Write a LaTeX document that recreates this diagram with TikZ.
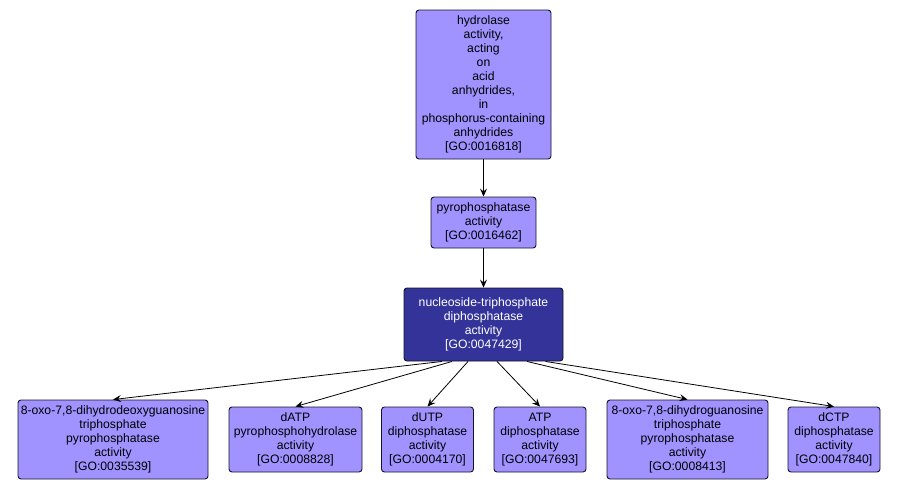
\documentclass[tikz,border=0pt]{standalone}
\usepackage{fontspec}
\setmainfont{Liberation Sans}
\usetikzlibrary{arrows.meta}
\definecolor{lightgo}{RGB}{160,146,255}
\definecolor{darkgo}{RGB}{51,51,153}
\definecolor{edgec}{RGB}{20,20,40}
\tikzset{
  goterm/.style={draw=edgec, line width=0.9pt, rounded corners=3pt, fill=lightgo,
    align=center, inner sep=0pt, font=\fontsize{12.2}{14}\selectfont, text=black},
  goactive/.style={goterm, fill=darkgo, text=white},
  goedge/.style={draw=black, line width=0.8pt, -{Stealth[length=8pt,width=7pt,inset=3pt]}}
}
\begin{document}
\begin{tikzpicture}[x=1pt,y=-1pt]
\useasboundingbox (0,0) rectangle (899,490);
\node[goterm, minimum width=135pt, minimum height=149pt] (top) at (483.5,84.5)
  {hydrolase\\activity,\\acting\\on\\acid\\anhydrides,\\in\\phosphorus-containing\\anhydrides\\{[GO:0016818]}};
\node[goterm, minimum width=105pt, minimum height=51pt] (pyro) at (483.5,222.5)
  {pyrophosphatase\\activity\\{[GO:0016462]}};
\node[goactive, minimum width=159pt, minimum height=73pt] (nuc) at (483.5,324.5)
  {nucleoside-triphosphate\\diphosphatase\\activity\\{[GO:0047429]}};
\node[goterm, minimum width=190pt, minimum height=79pt] (n1) at (113,439.5)
  {8-oxo-7,8-dihydrodeoxyguanosine\\triphosphate\\pyrophosphatase\\activity\\{[GO:0035539]}};
\node[goterm, minimum width=133pt, minimum height=65pt] (n2) at (295.5,439.5)
  {dATP\\pyrophosphohydrolase\\activity\\{[GO:0008828]}};
\node[goterm, minimum width=92pt, minimum height=65pt] (n3) at (427.5,439.5)
  {dUTP\\diphosphatase\\activity\\{[GO:0004170]}};
\node[goterm, minimum width=92pt, minimum height=65pt] (n4) at (540,439.5)
  {ATP\\diphosphatase\\activity\\{[GO:0047693]}};
\node[goterm, minimum width=161pt, minimum height=79pt] (n5) at (687.5,439.5)
  {8-oxo-7,8-dihydroguanosine\\triphosphate\\pyrophosphatase\\activity\\{[GO:0008413]}};
\node[goterm, minimum width=92pt, minimum height=65pt] (n6) at (834,439.5)
  {dCTP\\diphosphatase\\activity\\{[GO:0047840]}};
\draw[goedge] (top.south) -- (pyro.north);
\draw[goedge] (pyro.south) -- (nuc.north);
\draw[goedge] ([xshift=-41.5pt]nuc.south) -- (n1.north);
\draw[goedge] ([xshift=-31.5pt]nuc.south) -- (n2.north);
\draw[goedge] ([xshift=-15.5pt]nuc.south) -- (n3.north);
\draw[goedge] ([xshift=13.5pt]nuc.south) -- (n4.north);
\draw[goedge] ([xshift=43.5pt]nuc.south) -- (n5.north);
\draw[goedge] ([xshift=62pt]nuc.south) -- (n6.north);
\end{tikzpicture}
\end{document}
